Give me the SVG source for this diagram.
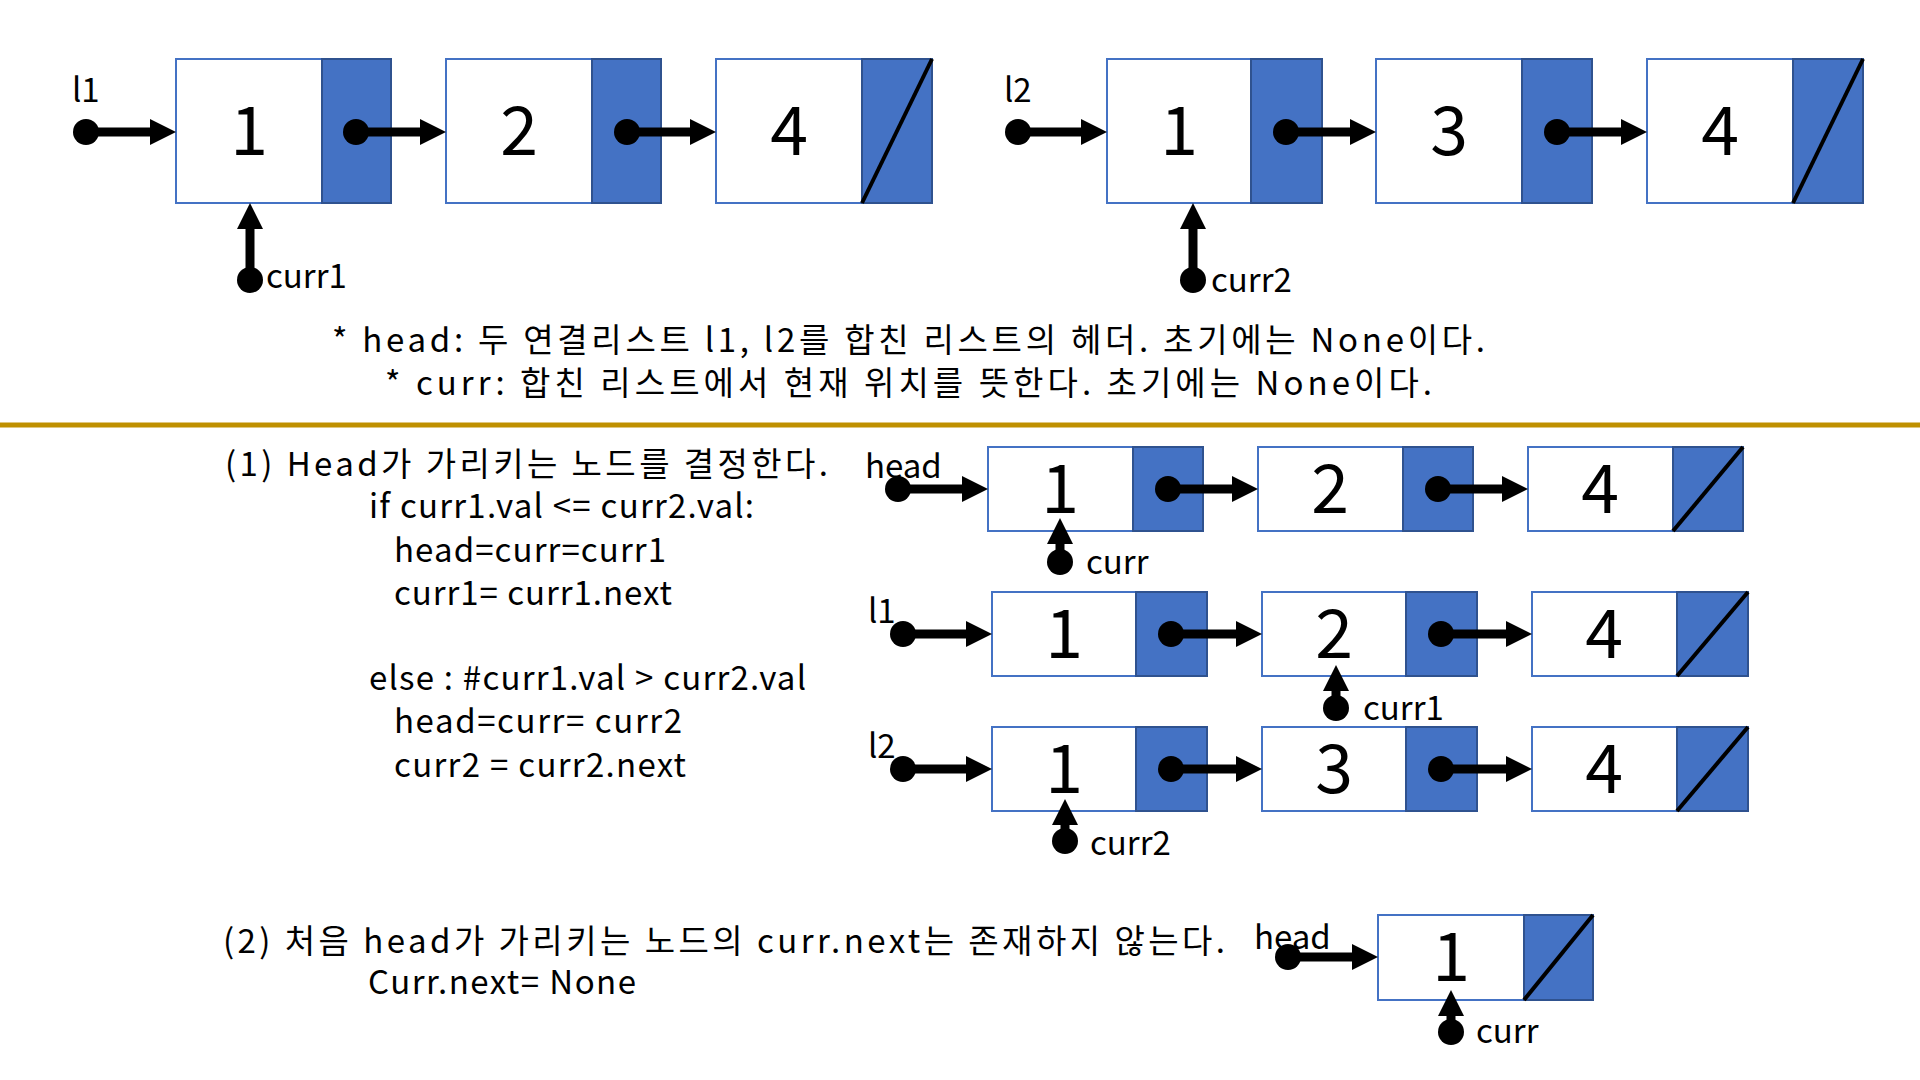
<svg xmlns="http://www.w3.org/2000/svg" width="1920" height="1080" viewBox="0 0 1920 1080">
<style>
.data{fill:#fff;stroke:#4472C4;stroke-width:2}
.ptr{fill:#4472C4;stroke:#2F528F;stroke-width:2}
.slash{stroke:#000;stroke-width:4}
text{font-family:"Noto Sans CJK KR","Noto Sans",sans-serif;fill:#000}
.t{font-size:33px}
.d{font-size:68px;text-anchor:middle}
.c{stroke:#000;stroke-width:9;fill:none;marker-start:url(#dot);marker-end:url(#ah)}
</style>
<defs>
<marker id="ah" markerUnits="userSpaceOnUse" markerWidth="26" markerHeight="26" refX="2" refY="13" orient="auto"><path d="M0,0 L26,13 L0,26 z" fill="#000"/></marker>
<marker id="dot" markerUnits="userSpaceOnUse" markerWidth="26" markerHeight="26" refX="13" refY="13" orient="auto"><circle cx="13" cy="13" r="13" fill="#000"/></marker>
</defs>
<rect width="1920" height="1080" fill="#fff"/>

<!-- top l1 list -->
<g id="l1-n1"><rect class="data" x="176" y="59" width="146" height="144"/><rect class="ptr" x="322" y="59" width="69" height="144"/><text class="d" x="249" y="155">1</text></g>
<g id="l1-n2"><rect class="data" x="446" y="59" width="146" height="144"/><rect class="ptr" x="592" y="59" width="69" height="144"/><text class="d" x="519" y="155">2</text></g>
<g id="l1-n3"><rect class="data" x="716" y="59" width="146" height="144"/><rect class="ptr" x="862" y="59" width="70" height="144"/><line class="slash" x1="862" y1="203" x2="932" y2="59"/><text class="d" x="789" y="155">4</text></g>
<!-- top l2 list -->
<g id="l2-n1"><rect class="data" x="1107" y="59" width="144" height="144"/><rect class="ptr" x="1251" y="59" width="71" height="144"/><text class="d" x="1179" y="155">1</text></g>
<g id="l2-n2"><rect class="data" x="1376" y="59" width="146" height="144"/><rect class="ptr" x="1522" y="59" width="70" height="144"/><text class="d" x="1449" y="155">3</text></g>
<g id="l2-n3"><rect class="data" x="1647" y="59" width="146" height="144"/><rect class="ptr" x="1793" y="59" width="70" height="144"/><line class="slash" x1="1793" y1="203" x2="1863" y2="59"/><text class="d" x="1720" y="155">4</text></g>

<g id="labels-top" class="t">
<text x="72" y="102">l1</text>
<text x="1004" y="102">l2</text>
<text x="266" y="288">curr1</text>
<text x="1211" y="292">curr2</text>
<text x="332" y="352" textLength="1153" lengthAdjust="spacing">* head: 두 연결리스트 l1, l2를 합친 리스트의 헤더. 초기에는 None이다.</text>
<text x="385" y="395" textLength="1047" lengthAdjust="spacing">* curr: 합친 리스트에서 현재 위치를 뜻한다. 초기에는 None이다.</text>
</g>
<line x1="0" y1="425" x2="1920" y2="425" stroke="#BF9000" stroke-width="5"/>

<!-- section 1 text -->
<g id="text-1" class="t" xml:space="preserve">
<text x="225" y="476" textLength="603" lengthAdjust="spacing">(1) Head가 가리키는 노드를 결정한다.</text>
<text x="369" y="518" textLength="385" lengthAdjust="spacing">if curr1.val  &lt;=  curr2.val:</text>
<text x="394" y="562" textLength="272" lengthAdjust="spacing">head=curr=curr1</text>
<text x="394" y="605" textLength="278" lengthAdjust="spacing">curr1=  curr1.next</text>
<text x="369" y="690" textLength="437" lengthAdjust="spacing">else : #curr1.val  &gt;  curr2.val</text>
<text x="394" y="733" textLength="288" lengthAdjust="spacing">head=curr=  curr2</text>
<text x="394" y="777" textLength="292" lengthAdjust="spacing">curr2  =  curr2.next</text>
</g>

<!-- head row -->
<g id="h-n1"><rect class="data" x="988" y="447" width="145" height="84"/><rect class="ptr" x="1133" y="447" width="70" height="84"/><text class="d" x="1060" y="513">1</text></g>
<g id="h-n2"><rect class="data" x="1258" y="447" width="145" height="84"/><rect class="ptr" x="1403" y="447" width="70" height="84"/><text class="d" x="1330" y="513">2</text></g>
<g id="h-n3"><rect class="data" x="1528" y="447" width="145" height="84"/><rect class="ptr" x="1673" y="447" width="70" height="84"/><line class="slash" x1="1673" y1="531" x2="1743" y2="447"/><text class="d" x="1600" y="513">4</text></g>
<!-- l1 row -->
<g id="m1-n1"><rect class="data" x="992" y="592" width="144" height="84"/><rect class="ptr" x="1136" y="592" width="71" height="84"/><text class="d" x="1064" y="658">1</text></g>
<g id="m1-n2"><rect class="data" x="1262" y="592" width="144" height="84"/><rect class="ptr" x="1406" y="592" width="71" height="84"/><text class="d" x="1334" y="658">2</text></g>
<g id="m1-n3"><rect class="data" x="1532" y="592" width="145" height="84"/><rect class="ptr" x="1677" y="592" width="71" height="84"/><line class="slash" x1="1677" y1="676" x2="1748" y2="592"/><text class="d" x="1604" y="658">4</text></g>
<!-- l2 row -->
<g id="m2-n1"><rect class="data" x="992" y="727" width="144" height="84"/><rect class="ptr" x="1136" y="727" width="71" height="84"/><text class="d" x="1064" y="793">1</text></g>
<g id="m2-n2"><rect class="data" x="1262" y="727" width="144" height="84"/><rect class="ptr" x="1406" y="727" width="71" height="84"/><text class="d" x="1334" y="793">3</text></g>
<g id="m2-n3"><rect class="data" x="1532" y="727" width="145" height="84"/><rect class="ptr" x="1677" y="727" width="71" height="84"/><line class="slash" x1="1677" y1="811" x2="1748" y2="727"/><text class="d" x="1604" y="793">4</text></g>

<g id="labels-mid" class="t">
<text x="865" y="478">head</text>
<text x="868" y="623">l1</text>
<text x="868" y="758">l2</text>
<text x="1086" y="574">curr</text>
<text x="1363" y="720">curr1</text>
<text x="1090" y="855">curr2</text>
</g>

<!-- section 2 -->
<g id="text-2" class="t">
<text x="223" y="953" textLength="1002" lengthAdjust="spacing">(2) 처음 head가 가리키는 노드의 curr.next는 존재하지 않는다.</text>
<text x="368" y="994" textLength="268" lengthAdjust="spacing">Curr.next= None</text>
<text x="1254" y="949">head</text>
<text x="1476" y="1043">curr</text>
</g>
<g id="s2-n1"><rect class="data" x="1378" y="915" width="146" height="85"/><rect class="ptr" x="1524" y="915" width="69" height="85"/><line class="slash" x1="1524" y1="1000" x2="1593" y2="915"/><text class="d" x="1451" y="981">1</text></g>

<g id="connectors">
<!-- top -->
<path class="c" d="M86,132 H152"/>
<path class="c" d="M356,132 H422"/>
<path class="c" d="M627,132 H692"/>
<path class="c" d="M1018,132 H1083"/>
<path class="c" d="M1286,132 H1352"/>
<path class="c" d="M1557,132 H1623"/>
<path class="c" d="M250,280 V227"/>
<path class="c" d="M1193,280 V227"/>
<!-- head row -->
<path class="c" d="M898,489 H964"/>
<path class="c" d="M1168,489 H1234"/>
<path class="c" d="M1438,489 H1504"/>
<path class="c" d="M1060,562 V542"/>
<!-- l1 row -->
<path class="c" d="M903,634 H968"/>
<path class="c" d="M1171,634 H1238"/>
<path class="c" d="M1441,634 H1508"/>
<path class="c" d="M1336,708 V689"/>
<!-- l2 row -->
<path class="c" d="M903,769 H968"/>
<path class="c" d="M1171,769 H1238"/>
<path class="c" d="M1441,769 H1508"/>
<path class="c" d="M1065,841 V823"/>
<!-- section 2 -->
<path class="c" d="M1288,957 H1354"/>
<path class="c" d="M1451,1032 V1014"/>
</g>
</svg>
